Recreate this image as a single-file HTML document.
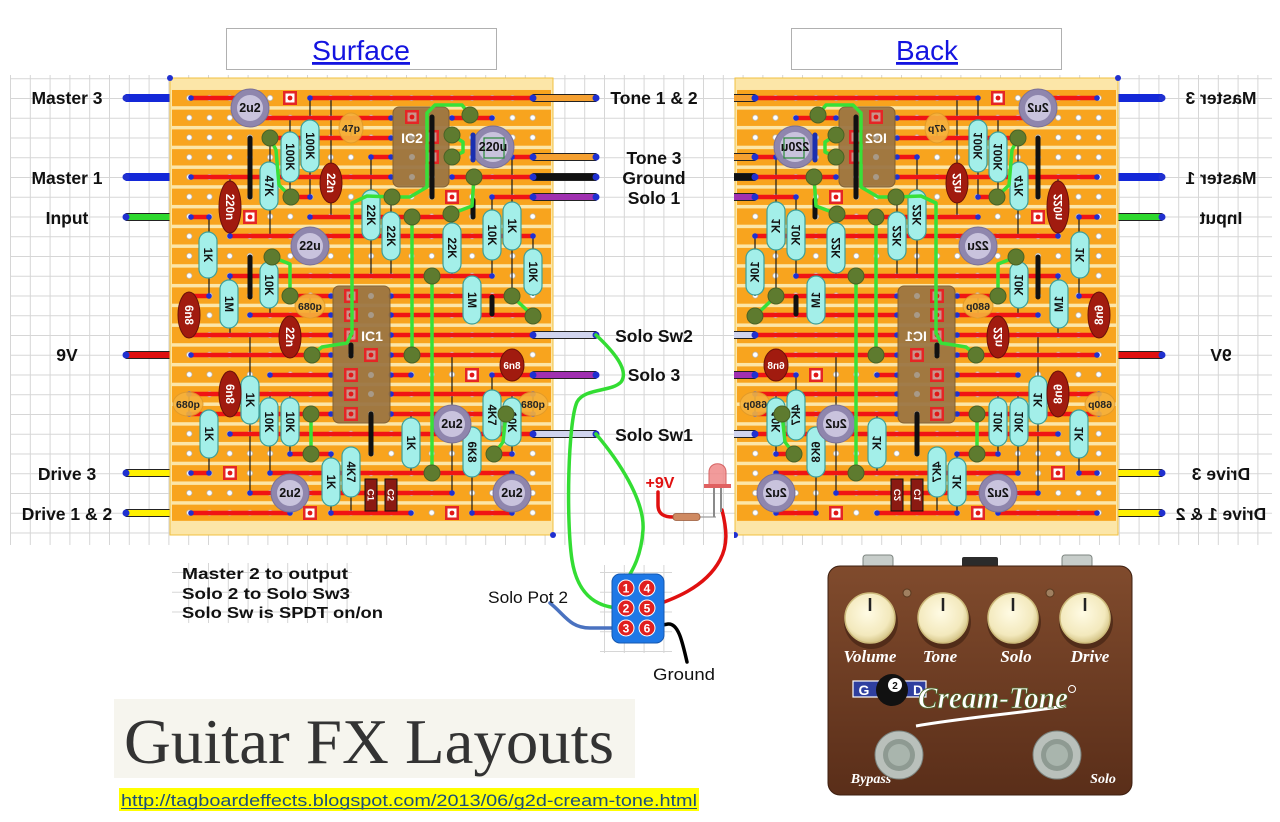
<!DOCTYPE html>
<html><head><meta charset="utf-8"><title>Cream-Tone layout</title>
<style>html,body{margin:0;padding:0;background:#fff;}svg{display:block;}</style></head>
<body>
<svg width="1280" height="822" viewBox="0 0 1280 822" font-family="'Liberation Sans', sans-serif">
<defs>
<pattern id="grid" x="10" y="78.25" width="19.8" height="19.75" patternUnits="userSpaceOnUse"><path d="M0.5 0V19.75M0 0.5H19.8" stroke="#d6d6d6" stroke-width="1" fill="none"/></pattern>
<pattern id="strip" x="0" y="89.9" width="10" height="19.75" patternUnits="userSpaceOnUse"><rect width="10" height="16.3" fill="#f8a41e"/></pattern>
<pattern id="holes" x="179.2" y="88.125" width="20.2" height="19.75" patternUnits="userSpaceOnUse"><circle cx="10.1" cy="9.875" r="2.7" fill="#fff" stroke="#b5b5b5" stroke-width=".7"/></pattern>
<marker id="bd" markerWidth="8" markerHeight="8" refX="4" refY="4" markerUnits="userSpaceOnUse"><circle cx="4" cy="4" r="2.8" fill="#2030d0"/></marker>
<clipPath id="cr"><rect x="734" y="0" width="546" height="560"/></clipPath>
<linearGradient id="pg" x1="0" y1="0" x2="0" y2="1"><stop offset="0" stop-color="#804b2d"/><stop offset="1" stop-color="#5a2e19"/></linearGradient>
<radialGradient id="kn" cx=".45" cy=".4" r=".6"><stop offset="0" stop-color="#fffbe4"/><stop offset=".75" stop-color="#f3e9bd"/><stop offset="1" stop-color="#d6c68a"/></radialGradient>
</defs>

<!-- background grid -->
<rect x="10" y="75" width="1262" height="470" fill="url(#grid)"/>
<rect x="172" y="563" width="180" height="60" fill="url(#grid)"/>
<rect x="600" y="565" width="72" height="88" fill="url(#grid)"/>

<!-- title boxes -->
<rect x="226.5" y="28.5" width="270" height="41" fill="#fff" stroke="#b0b0b0"/>
<text x="361" y="60" font-size="28" fill="#1414e0" text-anchor="middle" text-decoration="underline" textLength="98" lengthAdjust="spacingAndGlyphs">Surface</text>
<rect x="791.5" y="28.5" width="270" height="41" fill="#fff" stroke="#b0b0b0"/>
<text x="927" y="60" font-size="28" fill="#1414e0" text-anchor="middle" text-decoration="underline" textLength="62" lengthAdjust="spacingAndGlyphs">Back</text>

<g id="brd">
 <g font-weight="bold" font-size="17.5" text-anchor="middle" fill="#111">
  <text x="67" y="104">Master 3</text>
  <text x="67" y="184">Master 1</text>
  <text x="67" y="224">Input</text>
  <text x="67" y="361">9V</text>
  <text x="67" y="480">Drive 3</text>
  <text x="67" y="520">Drive 1 &amp; 2</text>
 </g>
 <!-- left wires -->
 <g stroke="#222" stroke-width="1">
  <rect x="126" y="94.5" width="65" height="7" fill="#1428d8" stroke="#1428d8"/>
  <rect x="126" y="173.5" width="65" height="7" fill="#1428d8" stroke="#1428d8"/>
  <rect x="126" y="213.5" width="65" height="7" fill="#2ed82e"/>
  <rect x="126" y="351.5" width="65" height="7" fill="#e01010"/>
  <rect x="126" y="469.5" width="65" height="7" fill="#fff000"/>
  <rect x="126" y="509.5" width="65" height="7" fill="#fff000"/>
 </g>
 <g fill="#2030d0">
  <circle cx="126" cy="98" r="3.5"/><circle cx="126" cy="177" r="3.5"/><circle cx="126" cy="217" r="3.5"/><circle cx="126" cy="355" r="3.5"/><circle cx="126" cy="473" r="3.5"/><circle cx="126" cy="513" r="3.5"/>
 </g>
 <!-- board -->
 <rect x="170" y="78" width="383" height="457" fill="#fce6a8" stroke="#f0c040"/>
 <rect x="172" y="89.9" width="379" height="431" fill="url(#strip)"/>
 <rect x="179.2" y="88.1" width="363.6" height="434.5" fill="url(#holes)"/>
 <!-- leads -->
 <path d="M290 118V197M310 98V197M331 98V217M270 138V236M371 157V276M391 197V276M452 217V276M492 197V276M512 157V296M533 236V296M230 177V236M230 276V335M230 375V414M209 217V296M250 335V493M270 256V315M270 394V473M290 315V355M290 394V454M209 414V473M331 454V513M351 454V513M411 414V473M452 355V493M472 434V513M492 375V434M512 394V454M189 296V335M512 355V375M351 118V138M310 296V315M189 394V414M533 394V414" stroke="#1a1a1a" stroke-width="1.2" fill="none"/>
 <!-- traces -->
 <g stroke="#f01414" stroke-width="4.5" marker-start="url(#bd)" marker-end="url(#bd)" fill="none">
  <path d="M191 98H250"/><path d="M310 98H533"/>
  <path d="M250 118H391"/><path d="M452 118H492"/>
  <path d="M270 138H391"/>
  <path d="M371 157H391"/><path d="M512 157H533"/>
  <path d="M191 177H391"/><path d="M452 177H533"/>
  <path d="M290 197H310"/><path d="M492 197H533"/>
  <path d="M191 217H209"/><path d="M310 217H452"/>
  <path d="M230 236H533"/>
  <path d="M230 276H492"/>
  <path d="M189 296H209"/><path d="M290 296H331"/><path d="M391 296H512"/>
  <path d="M250 315H331"/><path d="M391 315H533"/>
  <path d="M189 335H331"/><path d="M391 335H533"/>
  <path d="M191 355H331"/><path d="M391 355H512"/>
  <path d="M270 375H331"/><path d="M391 375H411"/><path d="M492 375H533"/>
  <path d="M189 394H331"/><path d="M391 394H533"/>
  <path d="M189 414H331"/><path d="M391 414H533"/>
  <path d="M230 434H533"/>
  <path d="M290 454H331"/><path d="M492 454H512"/>
  <path d="M191 473H209"/><path d="M270 473H512"/>
  <path d="M250 493H452"/>
  <path d="M191 513H290"/><path d="M331 513H411"/><path d="M472 513H512"/>
 </g>
 <!-- ceramic caps -->
 <g fill="#f6b23c" stroke="#e09a2a" stroke-width="1" opacity=".9">
  <ellipse cx="351" cy="128" rx="12" ry="15"/>
  <ellipse cx="310" cy="306" rx="15" ry="12"/>
  <ellipse cx="188" cy="404" rx="15" ry="12"/>
  <ellipse cx="533" cy="404" rx="15" ry="12"/>
 </g>
 <g font-weight="bold" font-size="10.5" text-anchor="middle" fill="#222">
  <text x="351" y="132">47p</text>
  <text x="310" y="310">680p</text>
  <text x="188" y="408">680p</text>
  <text x="533" y="408">680p</text>
 </g>
 <!-- resistors -->
 <g fill="#a3efe9" stroke="#3e9f98" stroke-width="1.2">
  <rect x="281" y="132" width="18" height="50" rx="9"/>
  <rect x="301" y="120" width="18" height="52" rx="9"/>
  <rect x="260" y="162" width="18" height="48" rx="9"/>
  <rect x="199" y="232" width="18" height="46" rx="9"/>
  <rect x="362" y="190" width="18" height="50" rx="9"/>
  <rect x="382" y="212" width="18" height="48" rx="9"/>
  <rect x="443" y="223" width="18" height="50" rx="9"/>
  <rect x="483" y="210" width="18" height="50" rx="9"/>
  <rect x="503" y="202" width="18" height="48" rx="9"/>
  <rect x="524" y="249" width="18" height="46" rx="9"/>
  <rect x="260" y="262" width="18" height="46" rx="9"/>
  <rect x="220" y="280" width="18" height="48" rx="9"/>
  <rect x="463" y="276" width="18" height="48" rx="9"/>
  <rect x="241" y="376" width="18" height="48" rx="9"/>
  <rect x="260" y="398" width="18" height="48" rx="9"/>
  <rect x="281" y="398" width="18" height="48" rx="9"/>
  <rect x="200" y="410" width="18" height="48" rx="9"/>
  <rect x="322" y="458" width="18" height="48" rx="9"/>
  <rect x="342" y="447" width="18" height="50" rx="9"/>
  <rect x="402" y="418" width="18" height="50" rx="9"/>
  <rect x="483" y="390" width="18" height="50" rx="9"/>
  <rect x="503" y="398" width="18" height="48" rx="9"/>
  <rect x="463" y="427" width="18" height="50" rx="9"/>
 </g>
 <g font-weight="bold" font-size="11.5" text-anchor="middle" fill="#111">
  <text transform="translate(290,157) rotate(90)" dy="4">100K</text>
  <text transform="translate(310,146) rotate(90)" dy="4">100K</text>
  <text transform="translate(269,186) rotate(90)" dy="4">47K</text>
  <text transform="translate(208,255) rotate(90)" dy="4">1K</text>
  <text transform="translate(371,215) rotate(90)" dy="4">22K</text>
  <text transform="translate(391,236) rotate(90)" dy="4">22K</text>
  <text transform="translate(452,248) rotate(90)" dy="4">22K</text>
  <text transform="translate(492,235) rotate(90)" dy="4">10K</text>
  <text transform="translate(512,226) rotate(90)" dy="4">1K</text>
  <text transform="translate(533,272) rotate(90)" dy="4">10K</text>
  <text transform="translate(269,285) rotate(90)" dy="4">10K</text>
  <text transform="translate(229,304) rotate(90)" dy="4">1M</text>
  <text transform="translate(472,300) rotate(90)" dy="4">1M</text>
  <text transform="translate(250,400) rotate(90)" dy="4">1K</text>
  <text transform="translate(269,422) rotate(90)" dy="4">10K</text>
  <text transform="translate(290,422) rotate(90)" dy="4">10K</text>
  <text transform="translate(209,434) rotate(90)" dy="4">1K</text>
  <text transform="translate(331,482) rotate(90)" dy="4">1K</text>
  <text transform="translate(351,472) rotate(90)" dy="4">4K7</text>
  <text transform="translate(411,443) rotate(90)" dy="4">1K</text>
  <text transform="translate(492,415) rotate(90)" dy="4">4K7</text>
  <text transform="translate(512,422) rotate(90)" dy="4">10K</text>
  <text transform="translate(472,452) rotate(90)" dy="4">6K8</text>
 </g>
 <!-- film caps -->
 <g fill="#a11b0f" stroke="#6a100a" stroke-width="1">
  <ellipse cx="230" cy="207" rx="11" ry="26"/>
  <ellipse cx="331" cy="183" rx="11" ry="20"/>
  <ellipse cx="189" cy="315" rx="11" ry="23"/>
  <ellipse cx="290" cy="337" rx="11" ry="21"/>
  <ellipse cx="230" cy="394" rx="11" ry="23"/>
  <ellipse cx="512" cy="365" rx="12" ry="16"/>
  <rect x="365" y="479" width="12" height="32" fill="#8b1a12" stroke="#111"/>
  <rect x="385" y="479" width="12" height="32" fill="#8b1a12" stroke="#111"/>
 </g>
 <g font-weight="bold" font-size="11.5" text-anchor="middle" fill="#fff">
  <text transform="translate(230,207) rotate(90)" dy="4">220n</text>
  <text transform="translate(331,183) rotate(90)" dy="4">22n</text>
  <text transform="translate(189,315) rotate(90)" dy="4">6n8</text>
  <text transform="translate(290,337) rotate(90)" dy="4">22n</text>
  <text transform="translate(230,394) rotate(90)" dy="4">6n8</text>
  <text x="512" y="369" font-size="10">6n8</text>
  <text transform="translate(371,495) rotate(90)" dy="3.5" font-size="9.5">C1</text>
  <text transform="translate(391,495) rotate(90)" dy="3.5" font-size="9.5">C2</text>
 </g>
 <!-- electrolytics -->
 <g fill="#8f86ad" stroke="#7a7197" stroke-width="1">
  <circle cx="250" cy="108" r="19"/><circle cx="493" cy="147" r="21"/><circle cx="310" cy="246" r="19"/>
  <circle cx="452" cy="424" r="19"/><circle cx="290" cy="493" r="19"/><circle cx="512" cy="493" r="19"/>
 </g>
 <g fill="#c9c3dd">
  <circle cx="250" cy="108" r="13"/><circle cx="493" cy="147" r="15"/><circle cx="310" cy="246" r="13"/>
  <circle cx="452" cy="424" r="13"/><circle cx="290" cy="493" r="13"/><circle cx="512" cy="493" r="13"/>
 </g>
 <path d="M473 135V160" stroke="#1b2fb0" stroke-width="5" stroke-linecap="round"/>
 <rect x="484" y="138" width="20" height="20" fill="none" stroke="#2a8a3a" stroke-width="1.2"/>
 <g font-weight="bold" font-size="12.5" text-anchor="middle" fill="#111">
  <text x="250" y="112">2u2</text><text x="493" y="151">220u</text><text x="310" y="250">22u</text>
  <text x="452" y="428">2u2</text><text x="290" y="497">2u2</text><text x="512" y="497">2u2</text>
 </g>
 <!-- ICs -->
 <rect x="393" y="107" width="56" height="80" rx="6" fill="#9b7543" stroke="#7a5a30" opacity=".93"/>
 <rect x="333" y="286" width="57" height="137" rx="6" fill="#9b7543" stroke="#7a5a30" opacity=".93"/>
 <g fill="#a89a88">
  <circle cx="412" cy="137" r="3"/><circle cx="412" cy="157" r="3"/><circle cx="412" cy="177" r="3"/><circle cx="432" cy="177" r="3"/>
  <circle cx="371" cy="296" r="3"/><circle cx="371" cy="315" r="3"/><circle cx="351" cy="355" r="3"/><circle cx="371" cy="375" r="3"/><circle cx="371" cy="394" r="3"/><circle cx="371" cy="414" r="3"/>
 </g>
 <g font-weight="bold" font-size="14" fill="#fff" text-anchor="middle">
  <text x="412" y="143">IC2</text><text x="372" y="341">IC1</text>
 </g>
 <!-- pads -->
 <g>
  <g fill="#e52525">
   <rect x="283" y="91" width="14" height="14"/><rect x="243" y="210" width="14" height="14"/><rect x="445" y="190" width="14" height="14"/>
   <rect x="223" y="466" width="14" height="14"/><rect x="303" y="506" width="14" height="14"/><rect x="445" y="506" width="14" height="14"/><rect x="465" y="368" width="14" height="14"/>
   <rect x="405" y="110" width="14" height="14"/><rect x="425" y="130" width="14" height="14"/><rect x="425" y="150" width="14" height="14"/>
   <rect x="344" y="289" width="14" height="14"/><rect x="344" y="308" width="14" height="14"/><rect x="344" y="328" width="14" height="14"/><rect x="364" y="348" width="14" height="14"/>
   <rect x="344" y="368" width="14" height="14"/><rect x="344" y="387" width="14" height="14"/><rect x="344" y="407" width="14" height="14"/>
  </g>
  <g fill="#fff">
   <rect x="285.5" y="93.5" width="9" height="9"/><rect x="245.5" y="212.5" width="9" height="9"/><rect x="447.5" y="192.5" width="9" height="9"/>
   <rect x="225.5" y="468.5" width="9" height="9"/><rect x="305.5" y="508.5" width="9" height="9"/><rect x="447.5" y="508.5" width="9" height="9"/><rect x="467.5" y="370.5" width="9" height="9"/>
  </g>
  <g fill="#c9948c">
   <rect x="407.5" y="112.5" width="9" height="9"/><rect x="427.5" y="132.5" width="9" height="9"/><rect x="427.5" y="152.5" width="9" height="9"/>
   <rect x="346.5" y="291.5" width="9" height="9"/><rect x="346.5" y="310.5" width="9" height="9"/><rect x="346.5" y="330.5" width="9" height="9"/><rect x="366.5" y="350.5" width="9" height="9"/>
   <rect x="346.5" y="370.5" width="9" height="9"/><rect x="346.5" y="389.5" width="9" height="9"/><rect x="346.5" y="409.5" width="9" height="9"/>
  </g>
  <g fill="#e01818">
   <circle cx="290" cy="98" r="2.4"/><circle cx="250" cy="217" r="2.4"/><circle cx="452" cy="197" r="2.4"/><circle cx="230" cy="473" r="2.4"/><circle cx="310" cy="513" r="2.4"/><circle cx="452" cy="513" r="2.4"/><circle cx="472" cy="375" r="2.4"/>
   <circle cx="412" cy="117" r="2.4"/><circle cx="432" cy="137" r="2.4"/><circle cx="432" cy="157" r="2.4"/>
   <circle cx="351" cy="296" r="2.4"/><circle cx="351" cy="315" r="2.4"/><circle cx="351" cy="335" r="2.4"/><circle cx="371" cy="355" r="2.4"/><circle cx="351" cy="375" r="2.4"/><circle cx="351" cy="394" r="2.4"/><circle cx="351" cy="414" r="2.4"/>
  </g>
 </g>
 <!-- black links -->
 <path d="M250 138V197M250 257V297M432 117V197M473 200V217M492 297V314M371 414V454M351 345V356" stroke="#111" stroke-width="5" stroke-linecap="round"/>
 <!-- green jumpers -->
 <g stroke="#38e038" stroke-width="3.5" fill="none" stroke-linejoin="round" stroke-linecap="round">
  <path d="M270 138L276 150L279 185L291 197"/>
  <path d="M470 115L462 105L435 105L427 113L427 187L410 197L392 197L367 196L352 203L352 333L347 343L322 347L312 355"/>
  <path d="M452 135L463 142L463 152L452 157"/>
  <path d="M474 177L472 206L451 214"/>
  <path d="M412 217V355"/>
  <path d="M432 276V473"/>
  <path d="M272 257L290 264L290 296"/>
  <path d="M512 296L533 316"/>
  <path d="M311 414V454"/>
  <path d="M506 414L503 442L494 454"/>
 </g>
 <g fill="#5e7b2f" stroke="#4a6325" stroke-width="1">
  <circle cx="270" cy="138" r="8"/><circle cx="291" cy="197" r="8"/>
  <circle cx="470" cy="115" r="8"/><circle cx="392" cy="197" r="8"/><circle cx="312" cy="355" r="8"/>
  <circle cx="452" cy="135" r="8"/><circle cx="452" cy="157" r="8"/>
  <circle cx="474" cy="177" r="8"/><circle cx="451" cy="214" r="8"/>
  <circle cx="412" cy="217" r="8"/><circle cx="412" cy="355" r="8"/>
  <circle cx="432" cy="276" r="8"/><circle cx="432" cy="473" r="8"/>
  <circle cx="272" cy="257" r="8"/><circle cx="290" cy="296" r="8"/>
  <circle cx="512" cy="296" r="8"/><circle cx="533" cy="316" r="8"/>
  <circle cx="311" cy="414" r="8"/><circle cx="311" cy="454" r="8"/>
  <circle cx="506" cy="414" r="8"/><circle cx="494" cy="454" r="8"/>
 </g>
 <!-- right wires -->
 <g stroke="#222" stroke-width="1">
  <rect x="533" y="94.5" width="63" height="7" fill="#f5a030"/>
  <rect x="533" y="153.5" width="63" height="7" fill="#f5a030"/>
  <rect x="533" y="173.5" width="63" height="7" fill="#111"/>
  <rect x="533" y="193.5" width="63" height="7" fill="#a030b0"/>
  <rect x="533" y="331.5" width="63" height="7" fill="#d0d4ee"/>
  <rect x="533" y="371.5" width="63" height="7" fill="#a030b0"/>
  <rect x="533" y="430.5" width="63" height="7" fill="#d0d4ee"/>
 </g>
 <g fill="#2030d0">
  <circle cx="533" cy="98" r="3.5"/><circle cx="596" cy="98" r="3.5"/>
  <circle cx="533" cy="157" r="3.5"/><circle cx="596" cy="157" r="3.5"/>
  <circle cx="533" cy="177" r="3.5"/><circle cx="596" cy="177" r="3.5"/>
  <circle cx="533" cy="197" r="3.5"/><circle cx="596" cy="197" r="3.5"/>
  <circle cx="533" cy="335" r="3.5"/><circle cx="596" cy="335" r="3.5"/>
  <circle cx="533" cy="375" r="3.5"/><circle cx="596" cy="375" r="3.5"/>
  <circle cx="533" cy="434" r="3.5"/><circle cx="596" cy="434" r="3.5"/>
  <circle cx="170" cy="78" r="3"/><circle cx="553" cy="535" r="3"/>
 </g>
</g>

<!-- mirrored back view -->
<g clip-path="url(#cr)">
 <use href="#brd" transform="translate(1288,0) scale(-1,1)"/>
</g>

<!-- middle labels -->
<g font-weight="bold" font-size="17.5" text-anchor="middle" fill="#111">
 <text x="654" y="104">Tone 1 &amp; 2</text>
 <text x="654" y="164">Tone 3</text>
 <text x="654" y="184">Ground</text>
 <text x="654" y="204">Solo 1</text>
 <text x="654" y="342">Solo Sw2</text>
 <text x="654" y="381">Solo 3</text>
 <text x="654" y="441">Solo Sw1</text>
</g>

<!-- off-board wiring -->
<g fill="none" stroke-linecap="round" stroke-width="3.5">
 <path d="M596 335C612 350 630 370 621 382C612 392 584 388 577 402C568 422 566 520 572 560C578 598 600 608 622 608" stroke="#33dd33"/>
 <path d="M596 434C618 460 645 500 643 530C641 560 630 574 622 588" stroke="#33dd33"/>
 <path d="M658 492V505C658 514 664 517 673 517" stroke="#e01010"/>
 <path d="M722 510C727 530 728 545 720 560C705 588 672 600 647 608" stroke="#e01010"/>
 <path d="M550 603C565 615 570 628 590 628L622 628" stroke="#4a72c0"/>
 <path d="M647 628L668 624C678 623 682 640 687 662" stroke="#000"/>
</g>
<line x1="700" y1="517" x2="716" y2="517" stroke="#999" stroke-width="1.2"/>
<rect x="673" y="513.5" width="27" height="7" rx="3" fill="#cf8a62" stroke="#9b5a3a" stroke-width=".8"/>
<line x1="714" y1="488" x2="714" y2="517" stroke="#8a8a8a" stroke-width="2"/>
<line x1="721" y1="488" x2="721" y2="512" stroke="#8a8a8a" stroke-width="2"/>
<path d="M709 487V472C709 461 726 461 726 472V487Z" fill="#f08a8a" stroke="#d04a4a" opacity=".85"/>
<rect x="704" y="484" width="27" height="4" fill="#e06060"/>
<text x="660" y="488" font-weight="bold" font-size="16" fill="#e01010" text-anchor="middle">+9V</text>

<!-- switch -->
<rect x="612" y="574" width="52" height="69" rx="8" fill="#1e78e6" stroke="#1558b0"/>
<g fill="#e02020" stroke="#fff" stroke-width="1">
 <circle cx="626" cy="588" r="8"/><circle cx="647" cy="588" r="8"/>
 <circle cx="626" cy="608" r="8"/><circle cx="647" cy="608" r="8"/>
 <circle cx="626" cy="628" r="8"/><circle cx="647" cy="628" r="8"/>
</g>
<g font-weight="bold" font-size="12" fill="#fff" text-anchor="middle">
 <text x="626" y="592.5">1</text><text x="647" y="592.5">4</text>
 <text x="626" y="612.5">2</text><text x="647" y="612.5">5</text>
 <text x="626" y="632.5">3</text><text x="647" y="632.5">6</text>
</g>
<text x="488" y="603" font-size="16.5" fill="#111" textLength="80" lengthAdjust="spacingAndGlyphs">Solo Pot 2</text>
<text x="653" y="680" font-size="16.5" fill="#111" textLength="62" lengthAdjust="spacingAndGlyphs">Ground</text>

<!-- notes -->
<g font-weight="bold" font-size="16" fill="#111">
 <text x="182" y="579" textLength="166" lengthAdjust="spacingAndGlyphs">Master 2 to output</text>
 <text x="182" y="599" textLength="168" lengthAdjust="spacingAndGlyphs">Solo 2 to Solo Sw3</text>
 <text x="182" y="618" textLength="201" lengthAdjust="spacingAndGlyphs">Solo Sw is SPDT on/on</text>
</g>

<!-- logo -->
<rect x="114" y="699" width="521" height="79" fill="#f6f5ee"/>
<text x="124" y="763" font-family="'Liberation Serif', serif" font-size="64" fill="#333" textLength="490" lengthAdjust="spacingAndGlyphs">Guitar FX Layouts</text>
<rect x="119" y="788" width="580" height="23" fill="#ffff00"/>
<text x="121" y="806" font-size="17" fill="#1a4f7a" textLength="576" lengthAdjust="spacingAndGlyphs">http://tagboardeffects.blogspot.com/2013/06/g2d-cream-tone.html</text>
<line x1="121" y1="808.5" x2="697" y2="808.5" stroke="#1a4f7a" stroke-width="1"/>

<!-- pedal -->
<rect x="863" y="555" width="30" height="13" rx="3" fill="#c7cdca" stroke="#7d8580"/>
<rect x="962" y="557" width="36" height="11" rx="2" fill="#2b2b2b"/>
<rect x="1062" y="555" width="30" height="13" rx="3" fill="#c7cdca" stroke="#7d8580"/>
<rect x="828" y="566" width="304" height="229" rx="12" fill="url(#pg)" stroke="#3d1f10"/>
<circle cx="907" cy="593" r="4" fill="#a08060" stroke="#5a3a20"/>
<circle cx="1050" cy="593" r="4" fill="#a08060" stroke="#5a3a20"/>
<g fill="#2a140a" opacity=".45">
 <circle cx="871" cy="622" r="27"/><circle cx="944" cy="622" r="27"/><circle cx="1014" cy="622" r="27"/><circle cx="1086" cy="622" r="27"/>
</g>
<g fill="url(#kn)" stroke="#cdbb7c" stroke-width="1.5">
 <circle cx="870" cy="618" r="25"/><circle cx="943" cy="618" r="25"/><circle cx="1013" cy="618" r="25"/><circle cx="1085" cy="618" r="25"/>
</g>
<path d="M870 598V611M943 598V611M1013 598V611M1085 598V611" stroke="#222" stroke-width="2.5"/>
<g font-family="'Liberation Serif', serif" font-style="italic" font-weight="bold" font-size="17" fill="#fff" text-anchor="middle">
 <text x="870" y="662">Volume</text><text x="940" y="662">Tone</text><text x="1016" y="662">Solo</text><text x="1090" y="662">Drive</text>
 <text x="871" y="783" font-size="14">Bypass</text><text x="1103" y="783" font-size="14">Solo</text>
</g>
<rect x="853" y="681" width="73" height="16" fill="#2f3f9f" stroke="#fff" stroke-width="1.2"/>
<g font-weight="bold" font-size="14" fill="#fff" text-anchor="middle">
 <text x="864" y="695">G</text><text x="918" y="695">D</text>
</g>
<circle cx="892" cy="690" r="16" fill="#111"/>
<circle cx="895" cy="685" r="7" fill="#fff"/>
<text x="895" y="689" font-weight="bold" font-size="10" fill="#111" text-anchor="middle">2</text>
<path d="M916 726C962 718 1012 714 1066 706" stroke="#fff" stroke-width="3" fill="none"/>
<text x="993" y="708" font-family="'Liberation Serif', serif" font-style="italic" font-weight="bold" font-size="31" fill="#fff" stroke="#4d6a2c" stroke-width=".8" text-anchor="middle" textLength="150" lengthAdjust="spacingAndGlyphs">Cream-Tone</text>
<circle cx="1072" cy="689" r="3.5" fill="none" stroke="#fff"/>
<g>
 <circle cx="899" cy="755" r="24" fill="#b9c0bb" stroke="#7a827d"/><circle cx="899" cy="755" r="16" fill="#8e9a92"/><circle cx="899" cy="755" r="11" fill="#a9b5ad"/>
 <circle cx="1057" cy="755" r="24" fill="#b9c0bb" stroke="#7a827d"/><circle cx="1057" cy="755" r="16" fill="#8e9a92"/><circle cx="1057" cy="755" r="11" fill="#a9b5ad"/>
</g>
</svg>
</body></html>
